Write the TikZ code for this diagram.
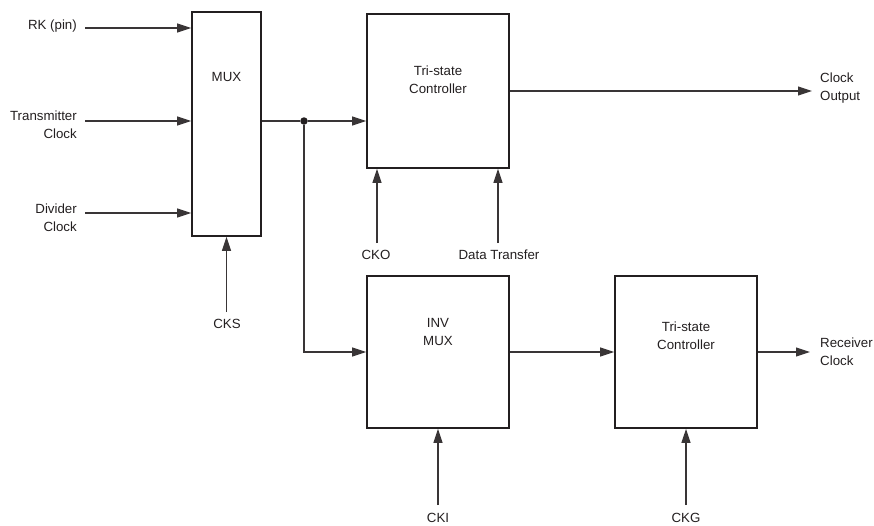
\documentclass[tikz,border=0pt]{standalone}
\usepackage{fontspec}
\setmainfont{Liberation Sans}
\usetikzlibrary{arrows.meta}
\definecolor{ink}{HTML}{231F20}

\begin{document}
\begin{tikzpicture}[
        x=1pt, y=-1pt,
        >={Triangle[length=14pt,width=9pt]},
        font=\fontsize{13.3}{18}\selectfont,
        text=ink,
        box/.style={draw=ink, line width=1.8pt, minimum width=142pt, minimum height=152pt, inner sep=0pt},
        txt/.style={inner sep=2pt, align=center},
        wire/.style={draw=ink!90, line width=1.1pt},
        rel/.style={->, wire},
        junction/.style={circle, fill=ink, inner sep=0pt, minimum size=7.5pt}
    ]
        \useasboundingbox (0,0) rectangle (874,525);

        \node[box, minimum width=69pt, minimum height=224pt, label={[txt, anchor=north, yshift=-59pt]north:MUX}] (mux) at (226.5,124) {};
        \node[box, minimum height=154pt, label={[txt, anchor=north, yshift=-51pt]north:Tri-state\\Controller}] (tri-out) at (438,91) {};
        \node[box, label={[txt, anchor=north, yshift=-41pt]north:INV\\MUX}] (inv-mux) at (438,352) {};
        \node[box, label={[txt, anchor=north, yshift=-45pt]north:Tri-state\\Controller}] (tri-rx) at (686,352) {};

        \node[junction] (split) at (304,121) {};

        \coordinate (rk-in) at (85,28);
        \coordinate (tx-in) at (85,121);
        \coordinate (div-in) at (85,213);
        \coordinate (cks-in) at (226.5,312);
        \coordinate (cko-in) at (377,243);
        \coordinate (dt-in) at (498,243);
        \coordinate (clk-out) at (812,91);
        \coordinate (cki-in) at (438,505);
        \coordinate (ckg-in) at (686,505);
        \coordinate (rx-out) at (810,352);

        \node[txt, anchor=north east, align=right] (rk-lbl) at (79,18) {RK (pin)};
        \node[txt, anchor=north east, align=right] (tx-lbl) at (79,109) {Transmitter\\Clock};
        \node[txt, anchor=north east, align=right] (div-lbl) at (79,202) {Divider\\Clock};
        \node[txt, anchor=north] (cks-lbl) at (227,317) {CKS};
        \node[txt, anchor=north] (cko-lbl) at (376,248) {CKO};
        \node[txt, anchor=north] (dt-lbl) at (499,248) {Data Transfer};
        \node[txt, anchor=north west, align=left] (clk-lbl) at (818,71) {Clock\\Output};
        \node[txt, anchor=north west, align=left] (rx-lbl) at (818,336) {Receiver\\Clock};
        \node[txt, anchor=north] (cki-lbl) at (438,511) {CKI};
        \node[txt, anchor=north] (ckg-lbl) at (686,511) {CKG};

        \draw[rel] (rk-in) -- (rk-in -| mux.west);
        \draw[rel] (tx-in) -- (tx-in -| mux.west);
        \draw[rel] (div-in) -- (div-in -| mux.west);
        \draw[rel] (cks-in) -- (mux.south);

        \draw[wire] (split -| mux.east) -- (split);
        \draw[rel] (split) -- (split -| tri-out.west);
        \draw[rel] (split) |- (inv-mux.west);

        \draw[rel] (cko-in) -- (cko-in |- tri-out.south);
        \draw[rel] (dt-in) -- (dt-in |- tri-out.south);
        \draw[rel] (tri-out.east) -- (clk-out);

        \draw[rel] (inv-mux.east) -- (tri-rx.west);
        \draw[rel] (tri-rx.east) -- (rx-out);
        \draw[rel] (cki-in) -- (inv-mux.south);
        \draw[rel] (ckg-in) -- (tri-rx.south);
    \end{tikzpicture}
\end{document}
